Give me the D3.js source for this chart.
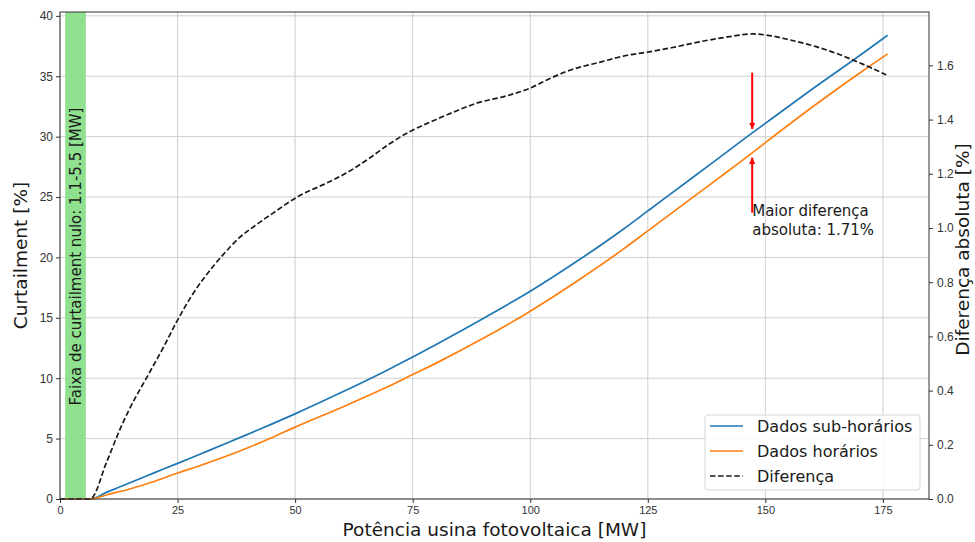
<!DOCTYPE html>
<html>
<head>
<meta charset="utf-8">
<script src="https://cdn.jsdelivr.net/npm/d3@7"></script>
<style>
  body { margin: 0; background: #fff; }
  svg { font-family: "DejaVu Sans", sans-serif; }
</style>
</head>
<body>
<div id="chart"></div>
<script>
// potência (MW) e curtailment (%)
const potencia = [0, 6.4, 10, 15, 20, 25, 30, 35, 40, 45, 50, 60, 70, 75, 80, 90, 100, 110, 120, 125, 130, 140, 147, 150, 160, 170, 176];
const subHorarios = [0, 0, 0.57, 1.37, 2.16, 2.95, 3.75, 4.55, 5.37, 6.2, 7.05, 8.85, 10.75, 11.75, 12.8, 14.95, 17.2, 19.7, 22.4, 23.85, 25.3, 28.2, 30.25, 31.1, 33.95, 36.7, 38.4];
const horarios = [0, 0, 0.35, 0.85, 1.45, 2.15, 2.8, 3.5, 4.25, 5.07, 5.95, 7.6, 9.35, 10.3, 11.25, 13.3, 15.55, 18.05, 20.75, 22.2, 23.65, 26.55, 28.6, 29.5, 32.45, 35.25, 36.85];

// diferença absoluta (%)
const potenciaDif = [0, 6.4, 10, 12.7, 15, 18.5, 22, 25, 28, 30.4, 34.6, 38.2, 42, 45.3, 51, 56, 61.6, 66, 70, 74.3, 78.6, 84, 88.5, 95.5, 99.8, 104, 107.6, 115.3, 120, 125.3, 130, 136, 142, 147.3, 150.2, 155, 160.8, 165, 168.6, 172, 175.7];
const diferenca = [0, 0, 0.14, 0.255, 0.34, 0.45, 0.56, 0.66, 0.75, 0.81, 0.90, 0.965, 1.015, 1.055, 1.12, 1.16, 1.21, 1.26, 1.31, 1.355, 1.39, 1.43, 1.46, 1.49, 1.515, 1.55, 1.577, 1.614, 1.635, 1.65, 1.665, 1.687, 1.705, 1.716, 1.712, 1.695, 1.669, 1.645, 1.62, 1.595, 1.565];

const xTicks = [0, 25, 50, 75, 100, 125, 150, 175];
const yTicks = [0, 5, 10, 15, 20, 25, 30, 35, 40];
const y2Ticks = [0, 0.2, 0.4, 0.6, 0.8, 1.0, 1.2, 1.4, 1.6];

const faixaNula = [1.1, 5.5];
const maiorDif = { x: 147.2, topo: 35.3, base: 23.7, sub: 30.3, hor: 28.6 };

const width = 975, height = 542;
const margin = { top: 12, right: 46, bottom: 43, left: 60 };
const w = width - margin.left - margin.right;
const h = height - margin.top - margin.bottom;

const svg = d3.select("#chart").append("svg")
  .attr("width", width)
  .attr("height", height);

const g = svg.append("g").attr("transform", `translate(${margin.left},${margin.top})`);

const x = d3.scaleLinear().domain([0, 184.8]).range([0, w]);
const y = d3.scaleLinear().domain([0, 40.32]).range([h, 0]);
const y2 = d3.scaleLinear().domain([0, 1.797]).range([h, 0]);

// grade
g.append("g")
  .selectAll("line")
  .data(xTicks)
  .enter().append("line")
  .attr("x1", d => x(d)).attr("x2", d => x(d))
  .attr("y1", 0).attr("y2", h)
  .attr("stroke", "#cfcfcf").attr("stroke-width", 1);

g.append("g")
  .selectAll("line")
  .data(yTicks)
  .enter().append("line")
  .attr("x1", 0).attr("x2", w)
  .attr("y1", d => y(d)).attr("y2", d => y(d))
  .attr("stroke", "#cfcfcf").attr("stroke-width", 1);

// faixa de curtailment nulo
g.append("rect")
  .attr("x", x(faixaNula[0]))
  .attr("width", x(faixaNula[1]) - x(faixaNula[0]))
  .attr("y", 0)
  .attr("height", h)
  .attr("fill", "#8fe08f");

const faixaMeio = (x(faixaNula[0]) + x(faixaNula[1])) / 2;
g.append("text")
  .attr("transform", `translate(${faixaMeio + 5.5},${h / 2 + 1}) rotate(-90)`)
  .attr("text-anchor", "middle")
  .attr("font-size", 15)
  .attr("fill", "#1a1a1a")
  .text("Faixa de curtailment nulo: 1.1-5.5 [MW]");

// linhas
const linha = d3.line()
  .x(d => x(d[0]))
  .y(d => y(d[1]))
  .curve(d3.curveMonotoneX);

const linhaDif = d3.line()
  .x(d => x(d[0]))
  .y(d => y2(d[1]))
  .curve(d3.curveMonotoneX);

g.append("path")
  .datum(potencia.map((p, i) => [p, subHorarios[i]]))
  .attr("d", linha)
  .attr("fill", "none")
  .attr("stroke", "#1f77b4")
  .attr("stroke-width", 1.7);

g.append("path")
  .datum(potencia.map((p, i) => [p, horarios[i]]))
  .attr("d", linha)
  .attr("fill", "none")
  .attr("stroke", "#ff7f0e")
  .attr("stroke-width", 1.7);

g.append("path")
  .datum(potenciaDif.map((p, i) => [p, diferenca[i]]))
  .attr("d", linhaDif)
  .attr("fill", "none")
  .attr("stroke", "#1a1a1a")
  .attr("stroke-width", 1.7)
  .attr("stroke-dasharray", "5.5,2.6");

// setas
svg.append("defs").append("marker")
  .attr("id", "seta")
  .attr("viewBox", "0 0 10 10")
  .attr("refX", 10).attr("refY", 5)
  .attr("markerWidth", 3.2).attr("markerHeight", 3.2)
  .attr("markerUnits", "strokeWidth")
  .attr("orient", "auto")
  .append("path")
  .attr("d", "M0,0 L10,5 L0,10 z")
  .attr("fill", "red");

const ax = x(maiorDif.x);
g.append("line")
  .attr("x1", ax).attr("x2", ax)
  .attr("y1", y(maiorDif.topo)).attr("y2", y(maiorDif.sub) - 4)
  .attr("stroke", "red").attr("stroke-width", 2)
  .attr("marker-end", "url(#seta)");

g.append("line")
  .attr("x1", ax).attr("x2", ax)
  .attr("y1", y(maiorDif.base)).attr("y2", y(maiorDif.hor) + 4)
  .attr("stroke", "red").attr("stroke-width", 2)
  .attr("marker-end", "url(#seta)");

const nota = g.append("text")
  .attr("x", ax)
  .attr("y", y(maiorDif.base) + 3)
  .attr("font-size", 15)
  .attr("fill", "#1a1a1a");
nota.append("tspan").attr("x", ax).attr("dy", 0).text("Maior diferença");
nota.append("tspan").attr("x", ax).attr("dy", 19).text("absoluta: 1.71%");

// eixos
const xAxis = g.append("g")
  .attr("transform", `translate(0,${h})`)
  .call(d3.axisBottom(x).tickValues(xTicks).tickSize(4).tickPadding(3));

const yAxis = g.append("g")
  .call(d3.axisLeft(y).tickValues(yTicks).tickSize(4).tickPadding(3));

const y2Axis = g.append("g")
  .attr("transform", `translate(${w},0)`)
  .call(d3.axisRight(y2).tickValues(y2Ticks).tickFormat(d3.format(".1f")).tickSize(4).tickPadding(4));

[xAxis, yAxis, y2Axis].forEach(a => {
  a.select(".domain").remove();
  a.selectAll(".tick line").attr("stroke", "#333").attr("stroke-width", 1);
  a.selectAll(".tick text").attr("fill", "#333").attr("font-size", 12);
});
xAxis.selectAll(".tick text").attr("font-size", 11);

// moldura
g.append("rect")
  .attr("width", w).attr("height", h)
  .attr("fill", "none")
  .attr("stroke", "#333")
  .attr("stroke-width", 1);

// títulos dos eixos
svg.append("text")
  .attr("x", margin.left + w / 2)
  .attr("y", 536)
  .attr("text-anchor", "middle")
  .attr("font-size", 18.5)
  .attr("fill", "#1a1a1a")
  .text("Potência usina fotovoltaica [MW]");

svg.append("text")
  .attr("transform", `translate(27,${margin.top + h / 2}) rotate(-90)`)
  .attr("text-anchor", "middle")
  .attr("font-size", 18.5)
  .attr("fill", "#1a1a1a")
  .text("Curtailment [%]");

svg.append("text")
  .attr("transform", `translate(969,${margin.top + h / 2 - 6}) rotate(-90)`)
  .attr("text-anchor", "middle")
  .attr("font-size", 18.5)
  .attr("fill", "#1a1a1a")
  .text("Diferença absoluta [%]");

// legenda
const legenda = [
  { nome: "Dados sub-horários", cor: "#1f77b4", tracejado: null },
  { nome: "Dados horários", cor: "#ff7f0e", tracejado: null },
  { nome: "Diferença", cor: "#1a1a1a", tracejado: "5.5,2.6" }
];

const leg = svg.append("g").attr("transform", "translate(705,415)");
leg.append("rect")
  .attr("width", 215).attr("height", 75)
  .attr("rx", 3)
  .attr("fill", "white").attr("fill-opacity", 0.85)
  .attr("stroke", "#d6d6d6");

const item = leg.selectAll(".item")
  .data(legenda)
  .enter().append("g")
  .attr("class", "item")
  .attr("transform", (d, i) => `translate(0,${11 + i * 25})`);

item.append("line")
  .attr("x1", 5).attr("x2", 38)
  .attr("stroke", d => d.cor)
  .attr("stroke-width", 1.7)
  .attr("stroke-dasharray", d => d.tracejado);

item.append("text")
  .attr("x", 52)
  .attr("dy", "0.35em")
  .attr("font-size", 16)
  .attr("fill", "#1a1a1a")
  .text(d => d.nome);
</script>
</body>
</html>
